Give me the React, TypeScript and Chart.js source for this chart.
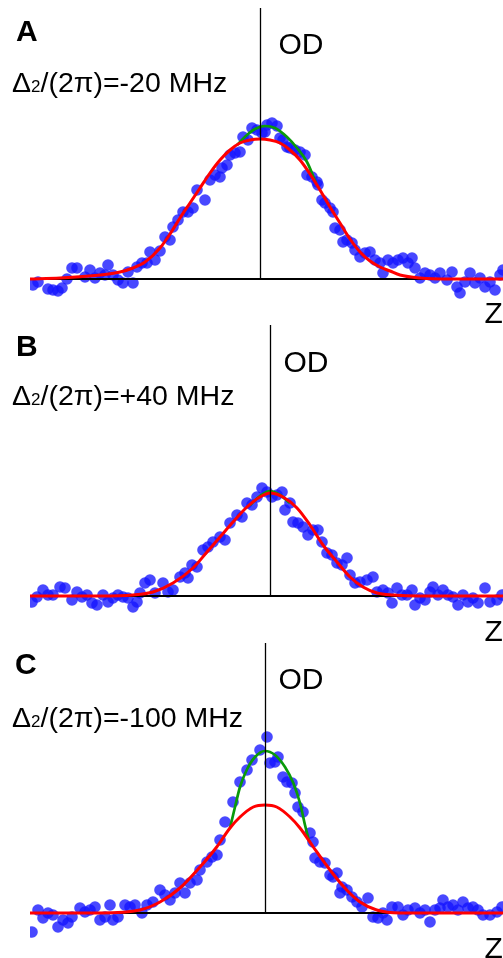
import React, { useEffect, useRef } from "react";
import { Chart, registerables } from "chart.js";

Chart.register(...registerables);

// ---------- Panel A : Δ2/(2π) = -20 MHz ----------
const aPointsZ = [-22.7,-22.2,-21.2,-20.7,-20.2,-19.8,-19.3,-18.8,-18.3,-17.5,-17.0,-16.5,-16.0,-15.5,-15.2,-14.7,-14.2,-13.7,-13.2,-12.7,-12.3,-11.8,-11.3,-11.0,-10.5,-10.0,-9.5,-9.0,-8.7,-8.2,-7.7,-7.2,-6.7,-6.3,-5.5,-5.0,-4.5,-4.0,-3.8,-3.3,-3.0,-2.5,-2.0,-1.7,-1.2,-0.8,-0.3,0.2,0.5,0.7,1.2,1.7,2.0,2.3,2.7,3.0,3.5,4.0,4.5,4.7,5.2,5.7,5.8,6.2,6.5,7.0,7.3,7.5,8.0,8.3,8.7,9.2,9.5,10.0,10.5,11.0,11.5,12.0,12.3,12.8,13.3,13.8,14.3,14.8,15.2,15.5,16.0,16.5,17.0,17.5,18.0,18.7,19.2,19.7,20.0,20.5,21.0,21.5,22.0,22.5,23.0,23.5,24.0,24.3];
const aPointsOD = [-0.06,-0.03,-0.10,-0.11,-0.12,-0.09,0.00,0.11,0.11,0.02,0.09,0.01,0.06,0.04,0.14,0.04,-0.01,-0.04,0.07,-0.04,0.12,0.16,0.16,0.27,0.19,0.28,0.42,0.39,0.52,0.59,0.67,0.67,0.71,0.89,0.79,0.99,1.04,1.02,1.11,1.14,1.24,1.26,1.27,1.42,1.39,1.51,1.49,1.46,1.47,1.54,1.56,1.53,1.41,1.39,1.32,1.31,1.29,1.27,1.24,1.04,1.02,0.97,0.94,0.79,0.76,0.71,0.67,0.51,0.49,0.37,0.39,0.36,0.29,0.22,0.26,0.27,0.19,0.16,0.06,0.19,0.16,0.19,0.21,0.16,0.21,0.11,0.01,0.06,0.04,0.01,0.06,-0.01,0.07,-0.08,-0.14,-0.03,0.06,-0.04,0.01,-0.08,-0.03,-0.11,0.04,0.09];
const aRedZ = [-23,-20,-16,-14,-12.7,-11.5,-10,-9,-8,-7,-6,-5,-4,-3,-2,-1,0,1,2,3,4,5,6,7,8,9,10,11,12,13,14,16,19,24.3];
const aRedOD = [0,0.01,0.04,0.07,0.11,0.17,0.31,0.45,0.61,0.76,0.91,1.06,1.19,1.29,1.36,1.39,1.40,1.39,1.36,1.29,1.19,1.05,0.89,0.72,0.56,0.40,0.27,0.18,0.12,0.08,0.04,0.01,0,0];
const aGreenZ = [-2.3,-1.3,-0.5,0.5,1.5,2.7,3.7,4.7,5.6];
const aGreenOD = [1.34,1.44,1.50,1.53,1.51,1.42,1.31,1.17,0.96];

// ---------- Panel B : Δ2/(2π) = +40 MHz ----------
const bPointsZ = [-23.8,-23.3,-22.7,-22.2,-21.7,-21.0,-20.5,-19.8,-19.3,-18.8,-18.3,-17.8,-17.3,-16.7,-16.2,-15.7,-15.2,-14.7,-14.2,-13.7,-13.3,-13.0,-12.5,-12.0,-11.5,-10.7,-10.2,-9.7,-9.0,-8.5,-8.2,-7.8,-7.3,-6.7,-6.2,-5.7,-5.0,-4.5,-4.0,-3.3,-2.8,-2.3,-1.8,-1.3,-0.8,-0.3,0.2,0.7,1.2,1.5,2.0,2.3,2.8,3.3,3.8,4.3,4.8,5.2,5.7,6.2,6.7,7.2,7.7,8.0,8.5,9.0,9.7,10.3,10.7,11.3,11.8,12.2,12.7,13.2,13.7,14.2,14.5,15.0,15.5,16.0,16.3,16.8,17.3,17.8,18.3,18.8,19.3,19.8,20.3,20.8,21.5,22.0,22.7,23.2];
const bPointsOD = [-0.06,-0.01,0.06,0.01,0.01,0.09,0.08,-0.04,0.04,-0.01,0.01,-0.07,-0.09,0.01,-0.06,-0.02,0.01,-0.01,-0.02,-0.11,-0.06,0.03,0.13,0.16,0.03,0.13,0.04,0.06,0.19,0.23,0.18,0.31,0.29,0.46,0.49,0.54,0.59,0.56,0.73,0.81,0.79,0.93,0.91,0.99,1.08,1.04,0.99,1.01,1.04,0.86,0.93,0.74,0.73,0.69,0.61,0.66,0.66,0.54,0.43,0.41,0.33,0.31,0.38,0.21,0.13,0.14,0.16,0.19,0.04,0.06,0.03,-0.07,0.08,0.01,0.01,0.06,-0.09,-0.02,-0.04,0.04,0.09,0.01,0.06,0.01,-0.01,-0.09,0.01,-0.06,-0.02,-0.07,0.08,-0.06,-0.04,0.01];
const bRedZ = [-24,-17,-13.7,-11.7,-9.7,-7.7,-6.3,-5,-3.7,-2.3,-1,0,1.3,2.7,4,5.3,6.7,8,9.3,10.7,12.3,15,23.3];
const bRedOD = [0,0,0.01,0.04,0.13,0.28,0.44,0.59,0.74,0.89,0.99,1.03,0.99,0.88,0.71,0.51,0.34,0.19,0.09,0.03,0.01,0,0];
const bGreenZ = [-2.0,-1.0,0,1.0,2.0];
const bGreenOD = [0.91,1.00,1.05,1.01,0.93];

// ---------- Panel C : Δ2/(2π) = -100 MHz ----------
const cPointsZ = [-23.3,-22.7,-22.2,-21.7,-21.2,-20.7,-20.2,-19.7,-19.3,-18.5,-18.0,-17.5,-17.0,-16.5,-16.0,-15.5,-15.2,-14.7,-14.0,-13.5,-13.0,-12.3,-11.8,-11.2,-10.5,-10.0,-9.5,-9.0,-8.5,-8.0,-7.5,-6.8,-6.5,-5.8,-5.3,-4.8,-4.5,-4.0,-3.2,-2.5,-1.8,-1.3,-0.5,0.2,0.5,1.0,1.3,1.8,2.2,2.7,3.0,3.3,3.8,4.5,4.8,5.0,5.5,6.0,6.5,6.8,7.2,7.7,7.5,8.2,8.7,9.2,9.7,10.3,10.8,11.3,11.8,12.2,12.7,13.3,13.8,14.3,15.0,15.5,16.0,16.5,17.0,17.5,17.8,18.3,18.8,19.3,19.8,20.3,20.8,21.3,21.8,22.5,23.2,23.7];
const cPointsOD = [-0.19,0.03,-0.05,0.00,-0.02,-0.14,-0.07,-0.10,-0.04,0.05,0.01,0.03,0.06,-0.07,-0.04,0.08,-0.07,-0.04,0.08,0.06,0.08,0.00,0.08,0.11,0.23,0.18,0.13,0.20,0.30,0.20,0.30,0.33,0.43,0.51,0.56,0.58,0.73,0.91,1.11,1.31,1.43,1.53,1.63,1.76,1.50,1.51,1.56,1.36,1.31,1.30,1.20,1.06,1.01,0.80,0.71,0.55,0.51,0.50,0.38,0.36,0.40,0.26,0.20,0.23,0.16,0.11,0.06,0.15,-0.04,-0.05,0.00,-0.07,0.06,0.06,-0.02,0.03,0.05,0.00,0.03,-0.09,0.03,0.05,0.13,0.06,0.08,0.03,0.11,0.05,0.06,0.03,-0.02,-0.02,0.01,0.06];
const cRedZ = [-23.5,-16.5,-12.5,-10.5,-8.5,-6.5,-4.83,-3.5,-2.5,-1.17,0,1.17,2.5,3.5,4.83,6.5,8.17,9.5,11.17,13.5,23.8];
const cRedOD = [0,0,0.03,0.11,0.25,0.46,0.66,0.85,0.96,1.06,1.08,1.06,0.96,0.85,0.66,0.43,0.23,0.11,0.03,0,0];
const cGreenZ = [-3.5,-3.0,-2.5,-1.83,-1.0,0,1.0,2.0,2.83,3.5,4.0,4.43];
const cGreenOD = [0.85,1.06,1.26,1.43,1.56,1.62,1.58,1.46,1.30,1.10,0.88,0.71];

const panelLetters = ["A", "B", "C"];
const detuningValues = ["-20", "+40", "-100"];

const FONT = '"Liberation Sans", Arial, Helvetica, sans-serif';

const pairs = (xs: number[], ys: number[]) =>
  xs.slice(0, Math.min(xs.length, ys.length)).map((x, i) => ({ x, y: ys[i] }));

const axesPlugin = {
  id: "odAxes",
  afterDatasetDraw(chart: any, args: any) {
    if (args.index !== 2) return;
    const { ctx, chartArea, scales } = chart;
    const y0 = Math.round(scales.y.getPixelForValue(0));
    ctx.save();
    ctx.strokeStyle = "#000";
    ctx.lineWidth = 2;
    ctx.beginPath();
    ctx.moveTo(chartArea.left, y0);
    ctx.lineTo(chartArea.right, y0);
    ctx.stroke();
    ctx.restore();
  },
  afterDatasetsDraw(chart: any) {
    const { ctx, chartArea, scales } = chart;
    const y0 = scales.y.getPixelForValue(0);
    const x0 = Math.round(scales.x.getPixelForValue(0)) + 0.5;
    ctx.save();
    ctx.strokeStyle = "#000";
    ctx.lineWidth = 1.3;
    ctx.beginPath();
    ctx.moveTo(x0, chartArea.top);
    ctx.lineTo(x0, y0);
    ctx.stroke();
    ctx.restore();
  },
};

type Spec = {
  top: number;
  height: number;
  zMin: number;
  zMax: number;
  odMin: number;
  odMax: number;
  pz: number[];
  pod: number[];
  rz: number[];
  rod: number[];
  gz: number[];
  god: number[];
};

function Panel({ spec }: { spec: Spec }) {
  const ref = useRef<HTMLCanvasElement>(null);
  useEffect(() => {
    const chart = new Chart(ref.current as HTMLCanvasElement, {
      type: "scatter",
      data: {
        datasets: [
          {
            data: pairs(spec.rz, spec.rod),
            showLine: true,
            borderColor: "#ff0000",
            borderWidth: 3,
            pointRadius: 0,
            cubicInterpolationMode: "monotone",
            clip: 0,
          } as any,
          {
            data: pairs(spec.gz, spec.god),
            showLine: true,
            borderColor: "#0a9a0a",
            borderWidth: 2.7,
            pointRadius: 0,
            cubicInterpolationMode: "monotone",
            clip: 0,
          } as any,
          {
            data: pairs(spec.pz, spec.pod),
            showLine: false,
            pointRadius: 5.8,
            pointBorderWidth: 0,
            pointBackgroundColor: "rgba(20,20,255,0.78)",
            borderColor: "rgba(0,0,0,0)",
            clip: 0,
          } as any,
        ],
      },
      options: {
        animation: false,
        responsive: false,
        devicePixelRatio: 1,
        events: [],
        layout: { padding: { left: 30, top: 8, right: 0, bottom: 0 }, autoPadding: false } as any,
        scales: {
          x: { type: "linear", min: spec.zMin, max: spec.zMax, display: false },
          y: { type: "linear", min: spec.odMin, max: spec.odMax, display: false },
        },
        plugins: { legend: { display: false }, tooltip: { enabled: false } },
      },
      plugins: [axesPlugin],
    });
    return () => chart.destroy();
  }, []);
  return (
    <canvas
      ref={ref}
      width={503}
      height={spec.height}
      style={{ position: "absolute", left: 0, top: spec.top, width: 503, height: spec.height, display: "block" }}
    />
  );
}

const specs: Spec[] = [
  { top: 0, height: 312, zMin: -23, zMax: 24.3, odMin: -0.33, odMax: 2.71, pz: aPointsZ, pod: aPointsOD, rz: aRedZ, rod: aRedOD, gz: aGreenZ, god: aGreenOD },
  { top: 317, height: 313, zMin: -24, zMax: 23.3, odMin: -0.34, odMax: 2.71, pz: bPointsZ, pod: bPointsOD, rz: bRedZ, rod: bRedOD, gz: bGreenZ, god: bGreenOD },
  { top: 635, height: 323, zMin: -23.5, zMax: 23.8, odMin: -0.45, odMax: 2.7, pz: cPointsZ, pod: cPointsOD, rz: cRedZ, rod: cRedOD, gz: cGreenZ, god: cGreenOD },
];

const letterPos = [ { left: 16, top: 16 }, { left: 16, top: 331 }, { left: 15, top: 649 } ];
const odPos = [ { left: 278.5, top: 29 }, { left: 283.5, top: 347 }, { left: 278.5, top: 664 } ];
const detPos = [ { left: 12, top: 68 }, { left: 12, top: 381 }, { left: 12, top: 703 } ];
const zPos = [ { left: 484.5, top: 298 }, { left: 484.5, top: 616 }, { left: 484.5, top: 933 } ];

export default function App() {
  useEffect(() => {
    document.body.style.margin = "0";
  }, []);
  const abs = (p: { left: number; top: number }) => ({
    position: "absolute" as const,
    left: p.left,
    top: p.top,
    whiteSpace: "nowrap" as const,
    color: "#000",
    fontFamily: FONT,
  });
  return (
    <div
      style={{
        position: "fixed",
        left: 0,
        top: 0,
        width: 503,
        height: 958,
        overflow: "hidden",
        background: "#fff",
        fontFamily: FONT,
      }}
    >
      {specs.map((s, i) => (
        <Panel key={i} spec={s} />
      ))}
      {panelLetters.map((l, i) => (
        <div key={"l" + i} style={{ ...abs(letterPos[i]), fontSize: 30, lineHeight: "30px", fontWeight: "bold" }}>
          {l}
        </div>
      ))}
      {panelLetters.map((_, i) => (
        <div key={"o" + i} style={{ ...abs(odPos[i]), fontSize: 30, lineHeight: "30px" }}>
          OD
        </div>
      ))}
      {detuningValues.map((v, i) => (
        <div key={"d" + i} style={{ ...abs(detPos[i]), fontSize: 28.5, lineHeight: "28.5px" }}>
          Δ<span style={{ fontSize: 17 }}>2</span>/(2π)={v} MHz
        </div>
      ))}
      {zPos.map((p, i) => (
        <div key={"z" + i} style={{ ...abs(p), fontSize: 30, lineHeight: "30px" }}>
          Z
        </div>
      ))}
    </div>
  );
}
